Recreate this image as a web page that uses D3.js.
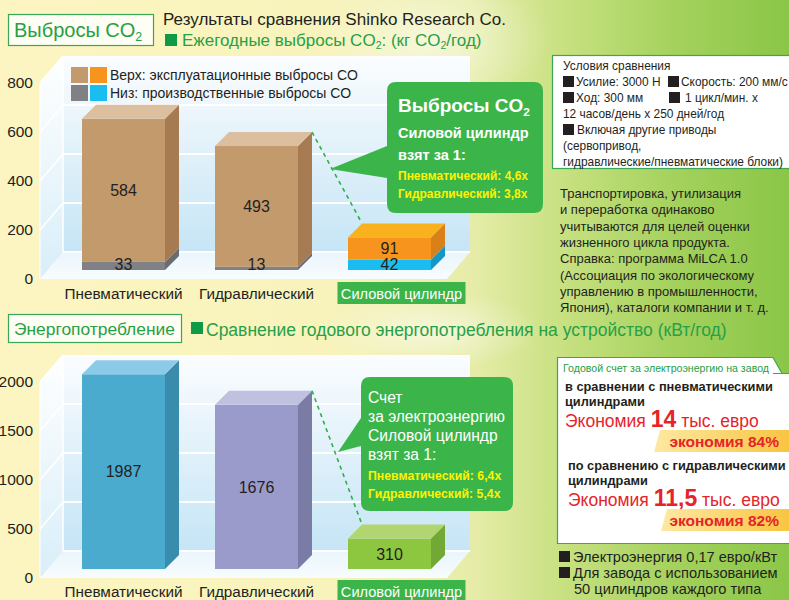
<!DOCTYPE html>
<html><head><meta charset="utf-8">
<script src="https://cdn.jsdelivr.net/npm/d3@7"></script>
<style>
html,body{margin:0;padding:0;overflow:hidden;background:#fcf6c6}
svg{display:block;font-family:"Liberation Sans",Arial,Helvetica,sans-serif}
</style></head><body>
<svg id="c" width="789" height="600"></svg>
<script>
// ---- data ----
const categories = ["Пневматический", "Гидравлический", "Силовой цилиндр"];
const co2Production = [33, 13, 42];     // lower part of each stack
const co2Operation = [584, 493, 91];    // upper part of each stack
const co2Ticks = [0, 200, 400, 600, 800];
const energyUse = [1987, 1676, 310];
const energyTicks = [0, 500, 1000, 1500, 2000];
const co2Ratios = ["Пневматический: 4,6x", "Гидравлический: 3,8x"];
const energyRatios = ["Пневматический: 6,4x", "Гидравлический: 5,4x"];

// ---- styles ----
const co2LowerColors = [
  {front: "#808185", side: "#6b6c70", top: "#a0a1a5"},
  {front: "#808185", side: "#6b6c70", top: "#a0a1a5"},
  {front: "#19bdf0", side: "#1597c6", top: "#6fd3f5"}
];
const co2UpperColors = [
  {front: "#c39a6c", side: "#a77b51", top: "#dbbf9f"},
  {front: "#c39a6c", side: "#a77b51", top: "#dbbf9f"},
  {front: "#f7941e", side: "#d98019", top: "#f9b21d"}
];
const energyColors = [
  {front: "#4aabcf", side: "#3a8cac", top: "#8ccbe8"},
  {front: "#9a9bcb", side: "#7a7ca6", top: "#c0c0e0"},
  {front: "#8dc63f", side: "#71a934", top: "#b2d66f"}
];
const GREEN = "#3bb54a", TEXT_GREEN = "#27a046", RED = "#e52429", DARK = "#231f20";

const svg = d3.select("#c");
const defs = svg.append("defs");

// page background
const bg = defs.append("linearGradient").attr("id", "bg").attr("x1", 0).attr("x2", 1).attr("y1", 0).attr("y2", 0);
[[0, "#fcf5c2"], [0.42, "#f8f3bb"], [0.6, "#e6eca8"], [0.72, "#c6e07f"], [0.86, "#a3d15c"], [1, "#8bc647"]]
  .forEach(([o, c]) => bg.append("stop").attr("offset", o).attr("stop-color", c));
svg.append("rect").attr("width", 789).attr("height", 600).attr("fill", "url(#bg)");
const glow = defs.append("radialGradient").attr("id", "glow");
glow.append("stop").attr("offset", 0).attr("stop-color", "#ffffff").attr("stop-opacity", 0.55);
glow.append("stop").attr("offset", 1).attr("stop-color", "#ffffff").attr("stop-opacity", 0);
svg.append("ellipse").attr("cx", 430).attr("cy", 40).attr("rx", 120).attr("ry", 70).attr("fill", "url(#glow)");
svg.append("ellipse").attr("cx", 430).attr("cy", 330).attr("rx", 110).attr("ry", 40).attr("fill", "url(#glow)");

// wall gradients
const wallGrad = defs.append("linearGradient").attr("id", "wall").attr("x1", 0).attr("x2", 0).attr("y1", 0).attr("y2", 1);
wallGrad.append("stop").attr("offset", 0).attr("stop-color", "#fbfdff");
wallGrad.append("stop").attr("offset", 0.35).attr("stop-color", "#e8f4fb");
wallGrad.append("stop").attr("offset", 1).attr("stop-color", "#c6e5f6");
const sideGrad = defs.append("linearGradient").attr("id", "side").attr("x1", 0).attr("x2", 0).attr("y1", 0).attr("y2", 1);
sideGrad.append("stop").attr("offset", 0).attr("stop-color", "#ffffff");
sideGrad.append("stop").attr("offset", 1).attr("stop-color", "#d8eef9");
const floorGrad = defs.append("linearGradient").attr("id", "floor").attr("x1", 0).attr("x2", 0).attr("y1", 0).attr("y2", 1);
floorGrad.append("stop").attr("offset", 0).attr("stop-color", "#e9f5fc");
floorGrad.append("stop").attr("offset", 1).attr("stop-color", "#f8fcfe");
const yel = defs.append("linearGradient").attr("id", "yel").attr("x1", 0).attr("x2", 1);
yel.append("stop").attr("offset", 0).attr("stop-color", "#fde9a2");
yel.append("stop").attr("offset", 1).attr("stop-color", "#f8c13a");

// helper: text runs, objects of the form {sub: "2"} become subscripts
function richText(sel, parts) {
  const SUB = 0.62, DROP = 0.3;
  let lowered = false;
  parts.forEach(p => {
    if (typeof p === "string") {
      const t = sel.append("tspan").text(p);
      if (lowered) t.attr("dy", `${-SUB * DROP}em`);
      lowered = false;
    } else {
      sel.append("tspan").attr("font-size", `${SUB}em`).attr("dy", `${DROP}em`).text(p.sub);
      lowered = true;
    }
  });
  return sel;
}

// ---- 3D chart ----
const X0 = 40, FLOOR_R = 447, DEPTH_X = 23, DEPTH_Y = 27, BAR_DX = 14, BAR_DY = 14, BAR_SHIFT = 9;

function chart3d(g, o) {
  const y = d3.scaleLinear().domain([0, o.max]).range([o.y0, o.y0 - o.height]);
  const x = d3.scaleBand().domain(categories).range([57, 456]).paddingInner(0.376).paddingOuter(0.188);
  const yTop = y(o.max);
  // back wall
  g.append("rect").attr("x", X0 + DEPTH_X).attr("y", yTop - DEPTH_Y)
    .attr("width", FLOOR_R - X0).attr("height", o.height).attr("fill", "url(#wall)");
  // side wall
  g.append("path").attr("fill", "url(#side)")
    .attr("d", `M${X0},${o.y0}L${X0},${yTop}L${X0 + DEPTH_X},${yTop - DEPTH_Y}L${X0 + DEPTH_X},${o.y0 - DEPTH_Y}Z`);
  // floor
  g.append("path").attr("fill", "url(#floor)")
    .attr("d", `M${X0},${o.y0}L${FLOOR_R},${o.y0}L${FLOOR_R + DEPTH_X},${o.y0 - DEPTH_Y}L${X0 + DEPTH_X},${o.y0 - DEPTH_Y}Z`);
  // grid lines
  o.ticks.slice(1, -1).forEach(t => {
    g.append("line").attr("x1", X0 + DEPTH_X).attr("x2", FLOOR_R + DEPTH_X)
      .attr("y1", y(t) - DEPTH_Y).attr("y2", y(t) - DEPTH_Y).attr("stroke", "#fff").attr("stroke-width", 2);
  });
  o.ticks.slice(1).forEach(t => {
    g.append("line").attr("x1", X0).attr("x2", X0 + DEPTH_X)
      .attr("y1", y(t)).attr("y2", y(t) - DEPTH_Y).attr("stroke", "#fff").attr("stroke-width", 1.5);
  });
  g.append("line").attr("x1", X0 + DEPTH_X).attr("x2", X0 + DEPTH_X)
    .attr("y1", yTop - DEPTH_Y).attr("y2", o.y0 - DEPTH_Y).attr("stroke", "#fff").attr("stroke-width", 1.5);
  g.append("line").attr("x1", X0 + DEPTH_X).attr("x2", FLOOR_R + DEPTH_X)
    .attr("y1", o.y0 - DEPTH_Y).attr("y2", o.y0 - DEPTH_Y).attr("stroke", "#fff").attr("stroke-width", 2);
  g.append("line").attr("x1", X0).attr("x2", X0).attr("y1", yTop).attr("y2", o.y0).attr("stroke", "#fff").attr("stroke-width", 1);

  // axis labels
  const ax = g.append("g").attr("transform", `translate(${X0},0)`)
    .call(d3.axisLeft(y).tickValues(o.ticks).tickSize(0).tickPadding(7).tickFormat(d3.format("d")));
  ax.select(".domain").remove();
  ax.selectAll("text").attr("font-size", 15.5).attr("fill", DARK).attr("font-family", "Liberation Sans, Arial");

  if (o.legend) o.legend(g);

  // bars
  const yb = v => y(v) - BAR_SHIFT;
  const corners = [];
  categories.forEach((c, i) => {
    const bx = x(c), bw = x.bandwidth();
    let base = 0;
    const segs = o.stacks[i];
    segs.forEach((s, j) => {
      const y1 = yb(base), y2 = yb(base + s.value);
      g.append("rect").attr("x", bx).attr("y", y2).attr("width", bw).attr("height", y1 - y2).attr("fill", s.color.front);
      g.append("path").attr("fill", s.color.side)
        .attr("d", `M${bx + bw},${y2}L${bx + bw + BAR_DX},${y2 - BAR_DY}L${bx + bw + BAR_DX},${y1 - BAR_DY}L${bx + bw},${y1}Z`);
      if (j === segs.length - 1) {
        g.append("path").attr("fill", s.color.top)
          .attr("d", `M${bx},${y2}L${bx + BAR_DX},${y2 - BAR_DY}L${bx + bw + BAR_DX},${y2 - BAR_DY}L${bx + bw},${y2}Z`);
        corners.push({left: [bx + BAR_DX, y2 - BAR_DY], right: [bx + bw + BAR_DX, y2 - BAR_DY]});
      }
      base += s.value;
    });
    // value labels
    base = 0;
    segs.forEach(s => {
      const ym = (yb(base) + yb(base + s.value)) / 2;
      g.append("text").attr("x", bx + bw / 2).attr("y", Math.min(ym, yb(0) - 6)).attr("dy", "0.36em")
        .attr("text-anchor", "middle").attr("font-size", 16).attr("fill", DARK).text(s.value);
      base += s.value;
    });
    // category labels
    const cx = bx + bw / 2;
    if (i === categories.length - 1) {
      g.append("rect").attr("x", cx - 52).attr("y", o.labelY - 12).attr("width", 128).attr("height", 22).attr("fill", GREEN);
      g.append("text").attr("x", cx + 12).attr("y", o.labelY + 5).attr("text-anchor", "middle")
        .attr("font-size", 14.6).attr("fill", "#fff").text(c);
    } else {
      g.append("text").attr("x", cx).attr("y", o.labelY + 5).attr("text-anchor", "middle")
        .attr("font-size", 15.3).attr("fill", DARK).text(c);
    }
  });
  // dashed connector from hydraulic bar to the power cylinder bar
  g.append("line").attr("x1", corners[1].right[0]).attr("y1", corners[1].right[1])
    .attr("x2", corners[2].left[0]).attr("y2", corners[2].left[1])
    .attr("stroke", "#2fae4a").attr("stroke-width", 1.6).attr("stroke-dasharray", "4,4");
}

// callout bubble with a tail pointing left
function callout(g, x, y, w, h, tip, t1, t2) {
  const r = 9;
  g.append("path").attr("fill", GREEN).attr("d",
    `M${x + r},${y}H${x + w - r}Q${x + w},${y} ${x + w},${y + r}V${y + h - r}Q${x + w},${y + h} ${x + w - r},${y + h}` +
    `H${x + r}Q${x},${y + h} ${x},${y + h - r}V${t2}L${tip[0]},${tip[1]}L${x},${t1}V${y + r}Q${x},${y} ${x + r},${y}Z`);
}

// ===== header: CO2 =====
svg.append("rect").attr("x", 8.5).attr("y", 14.5).attr("width", 145).attr("height", 31)
  .attr("fill", "#fffef4").attr("stroke", "#3aa757").attr("stroke-width", 1.2);
richText(svg.append("text").attr("x", 14).attr("y", 37).attr("font-size", 20).attr("fill", TEXT_GREEN),
  ["Выбросы CO", {sub: "2"}]);
svg.append("text").attr("x", 163).attr("y", 25).attr("font-size", 16).attr("fill", DARK)
  .attr("textLength", 343).attr("lengthAdjust", "spacingAndGlyphs").text("Результаты сравнения Shinko Research Co.");
svg.append("rect").attr("x", 165).attr("y", 34).attr("width", 12).attr("height", 12).attr("fill", "#0f9a48");
richText(svg.append("text").attr("x", 182).attr("y", 46).attr("font-size", 17).attr("fill", TEXT_GREEN),
  ["Ежегодные выбросы CO", {sub: "2"}, ": (кг CO", {sub: "2"}, "/год)"]);

// ===== CO2 chart =====
const g1 = svg.append("g");
chart3d(g1, {
  y0: 279, height: 196, max: 800, ticks: co2Ticks, labelY: 294,
  stacks: categories.map((c, i) => [
    {value: co2Production[i], color: co2LowerColors[i]},
    {value: co2Operation[i], color: co2UpperColors[i]}
  ]),
  legend: g => {
    const items = [
      {c: [co2UpperColors[0].front, co2UpperColors[2].front], t: "Верх: эксплуатационные выбросы CO", y: 67},
      {c: [co2LowerColors[0].front, co2LowerColors[2].front], t: "Низ: производственные выбросы CO", y: 85}
    ];
    items.forEach(it => {
      g.append("rect").attr("x", 71).attr("y", it.y).attr("width", 17).attr("height", 16).attr("fill", it.c[0]);
      g.append("rect").attr("x", 90).attr("y", it.y).attr("width", 17).attr("height", 16).attr("fill", it.c[1]);
      g.append("text").attr("x", 110).attr("y", it.y + 13).attr("font-size", 14).attr("fill", DARK).text(it.t);
    });
  }
});
callout(g1, 387, 82, 156, 131, [330, 169], 146, 178);
richText(g1.append("text").attr("x", 398).attr("y", 112).attr("font-size", 19).attr("font-weight", "bold").attr("fill", "#fff"),
  ["Выбросы CO", {sub: "2"}]);
g1.append("text").attr("x", 398).attr("y", 138).attr("font-size", 14.5).attr("font-weight", "bold").attr("fill", "#fff").text("Силовой цилиндр");
g1.append("text").attr("x", 398).attr("y", 160).attr("font-size", 14.5).attr("font-weight", "bold").attr("fill", "#fff").text("взят за 1:");
co2Ratios.forEach((t, i) => g1.append("text").attr("x", 398).attr("y", 180 + i * 18).attr("font-size", 12)
  .attr("font-weight", "bold").attr("fill", "#fff200").text(t));

// ===== comparison conditions =====
svg.append("rect").attr("x", 552.5).attr("y", 55.5).attr("width", 245).attr("height", 113)
  .attr("fill", "#fff").attr("stroke", "#3aa757").attr("stroke-width", 1.2);
const cond = [
  {y: 70, parts: [{t: "Условия сравнения", x: 563}]},
  {y: 86, parts: [{sq: 563, t: "Усилие: 3000 Н", x: 576}, {sq: 668, t: "Скорость: 200 мм/с", x: 681}]},
  {y: 102, parts: [{sq: 563, t: "Ход: 300 мм", x: 576}, {sq: 669, t: "1 цикл/мин. x", x: 685}]},
  {y: 118, parts: [{t: "12 часов/день x 250 дней/год", x: 563}]},
  {y: 134, parts: [{sq: 563, t: "Включая другие приводы", x: 577}]},
  {y: 150, parts: [{t: "(сервопривод,", x: 563}]},
  {y: 166, parts: [{t: "гидравлические/пневматические блоки)", x: 563}]}
];
cond.forEach(l => l.parts.forEach(p => {
  if (p.sq !== undefined) svg.append("rect").attr("x", p.sq).attr("y", l.y - 10).attr("width", 11).attr("height", 11).attr("fill", DARK);
  svg.append("text").attr("x", p.x).attr("y", l.y).attr("font-size", 11.9).attr("fill", DARK).text(p.t);
}));
const note = [
  "Транспортировка, утилизация",
  "и переработка одинаково",
  "учитываются для целей оценки",
  "жизненного цикла продукта.",
  "Справка: программа MiLCA 1.0",
  "(Ассоциация по экологическому",
  "управлению в промышленности,",
  "Япония), каталоги компании и т. д."
];
note.forEach((t, i) => svg.append("text").attr("x", 560).attr("y", 198 + i * 16.3)
  .attr("font-size", 13).attr("fill", DARK).text(t));

// ===== header: energy =====
svg.append("rect").attr("x", 8.5).attr("y", 314.5).attr("width", 173).attr("height", 28)
  .attr("fill", "#fffef4").attr("stroke", "#3aa757").attr("stroke-width", 1.2);
svg.append("text").attr("x", 14).attr("y", 335).attr("font-size", 17.4).attr("fill", TEXT_GREEN).text("Энергопотребление");
svg.append("rect").attr("x", 191).attr("y", 322).attr("width", 12).attr("height", 12).attr("fill", "#0f9a48");
svg.append("text").attr("x", 206).attr("y", 336).attr("font-size", 17.5).attr("fill", TEXT_GREEN)
  .text("Сравнение годового энергопотребления на устройство (кВт/год)");

// ===== energy chart =====
const g2 = svg.append("g");
chart3d(g2, {
  y0: 578, height: 196, max: 2000, ticks: energyTicks, labelY: 592,
  stacks: categories.map((c, i) => [{value: energyUse[i], color: energyColors[i]}])
});
callout(g2, 361, 377, 152, 134, [338, 452], 418, 446);
["Счет", "за электроэнергию", "Силовой цилиндр", "взят за 1:"].forEach((t, i) =>
  g2.append("text").attr("x", 368).attr("y", 403 + i * 19).attr("font-size", 15.6).attr("fill", "#fff").text(t));
energyRatios.forEach((t, i) => g2.append("text").attr("x", 368).attr("y", 480 + i * 18).attr("font-size", 12.3)
  .attr("font-weight", "bold").attr("fill", "#fff200").text(t));

// ===== annual electricity bill panel =====
svg.append("path").attr("fill", "#fff").attr("stroke", "#3aa757").attr("stroke-width", 1.2)
  .attr("d", "M557.5,357.5H773L782,373.5H800V543.5H557.5Z");
svg.append("line").attr("x1", 773).attr("x2", 800).attr("y1", 373.5).attr("y2", 373.5).attr("stroke", "#3aa757");
svg.append("text").attr("x", 563).attr("y", 372).attr("font-size", 11).attr("fill", TEXT_GREEN)
  .attr("textLength", 206).attr("lengthAdjust", "spacingAndGlyphs").text("Годовой счет за электроэнергию на завод");

function savingBlock(y, x, lines, amount, percent, barX) {
  lines.forEach((t, i) => svg.append("text").attr("x", x).attr("y", y + i * 15)
    .attr("font-size", 12.8).attr("font-weight", "bold").attr("fill", DARK).text(t));
  const t = svg.append("text").attr("x", x).attr("y", y + 36).attr("fill", RED);
  t.append("tspan").attr("font-size", 17.5).text("Экономия ");
  t.append("tspan").attr("font-size", 23).attr("font-weight", "bold").text(amount);
  t.append("tspan").attr("font-size", 17.5).text(" тыс. евро");
  svg.append("path").attr("fill", "url(#yel)").attr("d", `M${barX + 6},${y + 39}H800V${y + 61}H${barX}Z`);
  svg.append("text").attr("x", 779).attr("y", y + 56).attr("text-anchor", "end").attr("font-size", 15.5)
    .attr("font-weight", "bold").attr("fill", RED).text(percent);
}
savingBlock(391, 565, ["в сравнении с пневматическими", "цилиндрами"], "14", "экономия 84%", 654);
savingBlock(470, 568, ["по сравнению с гидравлическими", "цилиндрами"], "11,5", "экономия 82%", 661);

[
  {y: 562, sq: true, x: 573, t: "Электроэнергия 0,17 евро/кВт"},
  {y: 578, sq: true, x: 573, t: "Для завода с использованием"},
  {y: 594, sq: false, x: 574, t: "50 цилиндров каждого типа"}
].forEach(l => {
  if (l.sq) svg.append("rect").attr("x", 559).attr("y", l.y - 11).attr("width", 11).attr("height", 11).attr("fill", DARK);
  svg.append("text").attr("x", l.x).attr("y", l.y).attr("font-size", 14.6).attr("fill", DARK).text(l.t);
});
</script>
</body></html>
